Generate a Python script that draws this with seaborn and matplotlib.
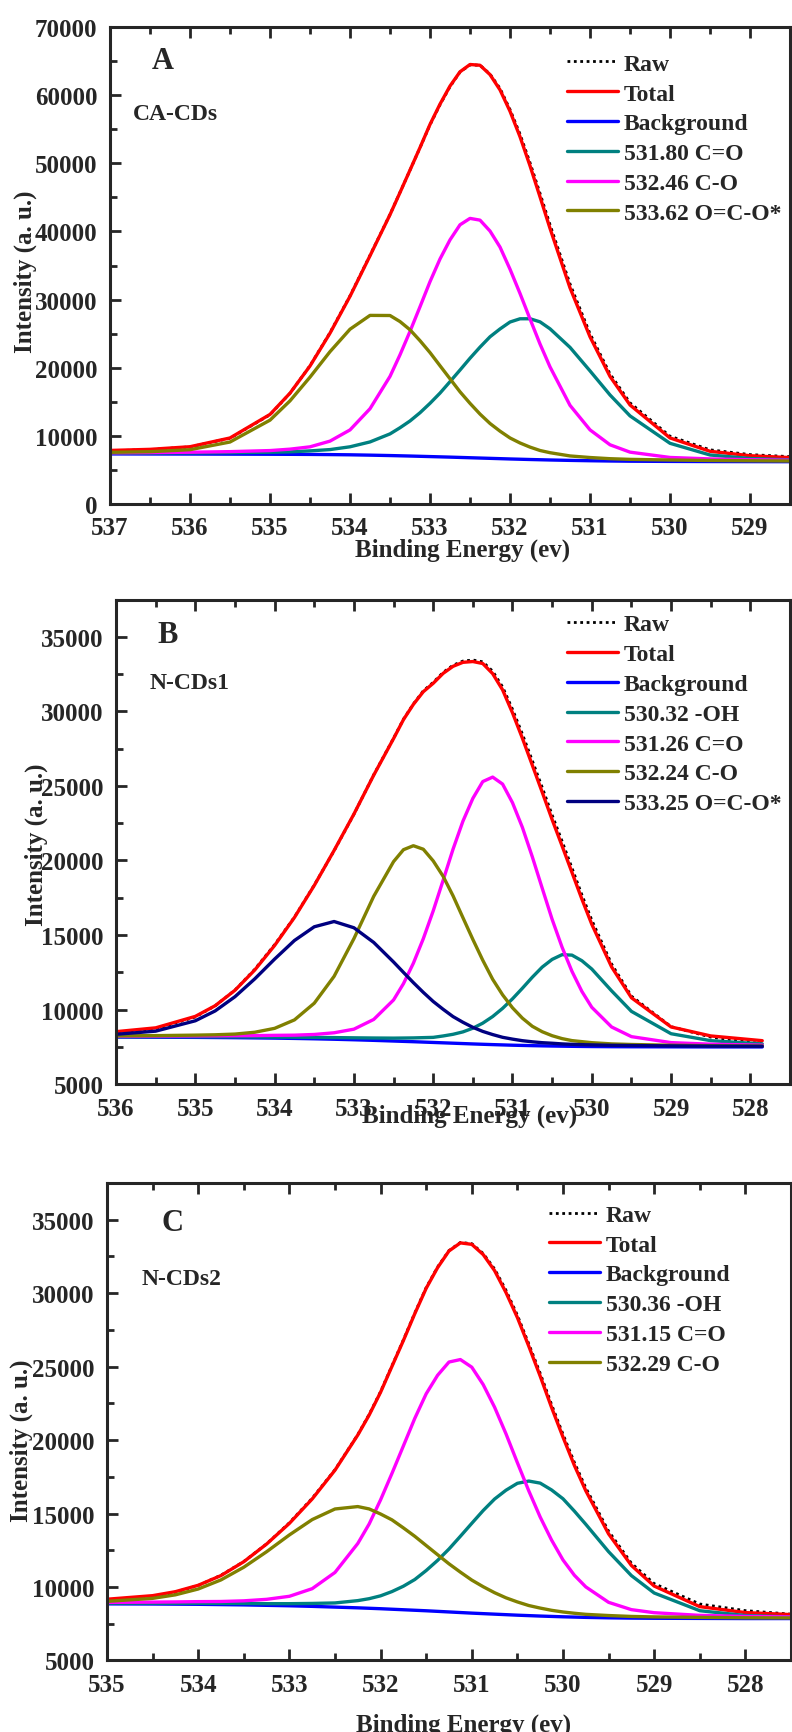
import numpy as np
import seaborn as sns
import matplotlib.pyplot as plt
from matplotlib.ticker import MultipleLocator

# ---------------- panel A : CA-CDs ----------------
energy_a = [537.0, 536.5, 536.0, 535.5, 535.0, 534.75, 534.5, 534.25, 534.0, 533.75,
            533.5, 533.375, 533.25, 533.125, 533.0, 532.875, 532.75, 532.625, 532.5, 532.375,
            532.25, 532.125, 532.0, 531.875, 531.75, 531.625, 531.5, 531.25, 531.0, 530.75,
            530.5, 530.0, 529.5, 529.0, 528.5]
raw_a = [7800, 7980, 8380, 9650, 13100, 16250, 20300, 25150, 30550, 36500,
         42500, 45750, 49000, 52300, 55650, 58600, 61250, 63400, 64450, 64400,
         63100, 61000, 57900, 54300, 50100, 45600, 41000, 32300, 25000, 19100,
         14850, 9950, 7950, 7250, 6950]
total_a = [7862, 8022, 8407, 9692, 13146, 16268, 20257, 25076, 30483, 36438,
           42468, 45718, 49012, 52319, 55714, 58694, 61346, 63437, 64507, 64396,
           63023, 60781, 57643, 53901, 49641, 45081, 40449, 31720, 24540, 18723,
           14534, 9695, 7736, 7085, 6811]
bg_a = [7350, 7340, 7330, 7315, 7300, 7290, 7275, 7250, 7220, 7170,
        7110, 7075, 7040, 7000, 6960, 6920, 6880, 6835, 6790, 6745,
        6700, 6655, 6610, 6570, 6530, 6495, 6460, 6400, 6350, 6310,
        6280, 6250, 6230, 6220, 6210]
# fitted components, height above the background
peak_a_co = [112, 137, 170, 224, 296, 366, 520, 737, 1176, 1940,
             3180, 4117, 5148, 6396, 7818, 9358, 11079, 12826, 14604, 16281,
             17843, 19038, 20100, 20615, 20660, 20240, 19255, 16589, 13188, 9694,
             6651, 2656, 963, 460, 279]
peak_a_c_o = [165, 208, 268, 370, 542, 760, 1116, 1978, 3654, 6815,
              11623, 14826, 18297, 21954, 25675, 29044, 31891, 34144, 35130, 34918,
              33363, 31053, 27850, 24330, 20631, 16988, 13665, 8078, 4530, 2380,
              1331, 581, 387, 278, 218]
peak_a_oco = [235, 337, 639, 1783, 5008, 7852, 11346, 15111, 18433, 20513,
              20555, 19700, 18527, 16969, 15261, 13372, 11496, 9632, 7983, 6452,
              5117, 4035, 3083, 2386, 1820, 1358, 1069, 653, 472, 339,
              272, 208, 156, 127, 104]
labels_a = ['531.80 C=O', '532.46 C-O', '533.62 O=C-O*']

# ---------------- panel B : N-CDs1 ----------------
energy_b = [536.0, 535.5, 535.0, 534.75, 534.5, 534.25, 534.0, 533.75, 533.5, 533.25,
            533.0, 532.75, 532.5, 532.375, 532.25, 532.125, 532.0, 531.875, 531.75, 531.625,
            531.5, 531.375, 531.25, 531.125, 531.0, 530.875, 530.75, 530.625, 530.5, 530.375,
            530.25, 530.125, 530.0, 529.75, 529.5, 529.0, 528.5, 527.85]
raw_b = [8450, 8700, 9500, 10250, 11300, 12700, 14350, 16200, 18350, 20650,
         23100, 25750, 28200, 29480, 30500, 31380, 31950, 32620, 33100, 33380,
         33450, 33330, 32700, 31650, 30150, 28480, 26700, 24900, 23050, 21300,
         19500, 17700, 16000, 13050, 10900, 8850, 8150, 7700]
total_b = [8514, 8770, 9539, 10254, 11291, 12655, 14298, 16175, 18325, 20670,
           23113, 25727, 28178, 29452, 30475, 31323, 31888, 32554, 33027, 33295,
           33348, 33215, 32535, 31448, 29906, 28200, 26393, 24579, 22740, 20982,
           19198, 17410, 15720, 12856, 10791, 8830, 8227, 7909]
bg_b = [8150, 8140, 8130, 8120, 8110, 8095, 8080, 8060, 8035, 8005,
        7970, 7930, 7885, 7862, 7840, 7815, 7790, 7765, 7740, 7715,
        7690, 7667, 7645, 7625, 7605, 7590, 7575, 7562, 7550, 7540,
        7530, 7522, 7515, 7505, 7500, 7495, 7490, 7490]
peak_b_oh = [31, 37, 45, 50, 56, 63, 72, 83, 95, 111,
             131, 158, 195, 225, 255, 298, 341, 460, 597, 784,
             1055, 1418, 1884, 2451, 3112, 3838, 4592, 5285, 5813, 6139,
             6119, 5752, 5201, 3747, 2375, 880, 420, 200]
peak_b_co = [63, 77, 99, 115, 133, 154, 187, 219, 291, 434,
             711, 1404, 2757, 3874, 5267, 6934, 8826, 10903, 13014, 14922,
             16476, 17627, 17950, 17501, 16270, 14626, 12669, 10573, 8498, 6643,
             5031, 3692, 2633, 1323, 680, 284, 183, 118]
peak_b_c_o = [83, 108, 151, 184, 242, 380, 656, 1243, 2388, 4220,
              6785, 9665, 12038, 12861, 13150, 12940, 12181, 11176, 9891, 8446,
              7013, 5639, 4382, 3361, 2511, 1828, 1299, 947, 692, 508,
              384, 322, 260, 188, 153, 109, 83, 60]
peak_b_oco = [187, 408, 1114, 1785, 2750, 3963, 5303, 6570, 7516, 7900,
              7516, 6570, 5303, 4630, 3963, 3336, 2750, 2250, 1785, 1428,
              1114, 864, 674, 510, 408, 318, 258, 212, 187, 152,
              134, 122, 111, 93, 83, 62, 51, 41]
labels_b = ['530.32 -OH', '531.26 C=O', '532.24 C-O', '533.25 O=C-O*']

# ---------------- panel C : N-CDs2 ----------------
energy_c = [535.0, 534.5, 534.25, 534.0, 533.75, 533.5, 533.25, 533.0, 532.75, 532.5,
            532.25, 532.125, 532.0, 531.875, 531.75, 531.625, 531.5, 531.375, 531.25, 531.125,
            531.0, 530.875, 530.75, 530.625, 530.5, 530.375, 530.25, 530.125, 530.0, 529.875,
            529.75, 529.5, 529.25, 529.0, 528.5, 528.0, 527.5]
raw_c = [8900, 9300, 9650, 10100, 10800, 11730, 12930, 14370, 16040, 17980,
         20370, 21750, 23300, 25060, 26820, 28650, 30380, 31780, 32900, 33450,
         33370, 32700, 31650, 30200, 28500, 26550, 24550, 22420, 20400, 18480,
         16750, 13800, 11620, 10230, 8840, 8390, 8150]
total_c = [9166, 9409, 9680, 10115, 10777, 11720, 12921, 14331, 15991, 17952,
           20345, 21707, 23258, 25021, 26776, 28604, 30333, 31737, 32873, 33422,
           33323, 32629, 31534, 30044, 28340, 26390, 24354, 22218, 20203, 18273,
           16550, 13615, 11466, 10062, 8662, 8257, 8121]
bg_c = [8850, 8840, 8830, 8820, 8800, 8780, 8750, 8720, 8680, 8630,
        8580, 8550, 8520, 8485, 8450, 8415, 8380, 8340, 8300, 8260,
        8220, 8185, 8150, 8115, 8080, 8050, 8020, 7995, 7970, 7950,
        7930, 7900, 7880, 7870, 7860, 7850, 7850]
peak_c_oh = [45, 56, 62, 71, 83, 98, 113, 143, 200, 283,
             491, 654, 878, 1203, 1602, 2092, 2740, 3469, 4284, 5191,
             6113, 7019, 7836, 8471, 8977, 9160, 9050, 8609, 8035, 7214,
             6337, 4504, 2895, 1720, 524, 207, 115]
peak_c_co = [100, 129, 153, 182, 212, 277, 409, 646, 1204, 2360,
             4381, 5741, 7413, 9251, 11152, 13062, 14771, 16070, 17012, 17221,
             16741, 15593, 14088, 12311, 10381, 8493, 6741, 5197, 3870, 2848,
             2076, 1055, 577, 379, 207, 146, 112]
peak_c_c_o = [171, 384, 635, 1042, 1682, 2565, 3649, 4822, 5907, 6679,
              6893, 6762, 6447, 6082, 5572, 5035, 4442, 3858, 3277, 2750,
              2249, 1832, 1460, 1147, 902, 687, 543, 417, 328, 261,
              207, 156, 114, 93, 71, 54, 44]
labels_c = ['530.36 -OH', '531.15 C=O', '532.29 C-O']

TEAL, MAGENTA, OLIVE, NAVY = '#008080', '#ff00ff', '#808000', '#000080'

sns.set_style('ticks')
plt.rcParams['font.family'] = ['Liberation Serif', 'DejaVu Serif']
plt.rcParams['font.weight'] = 'bold'
plt.rcParams['axes.labelweight'] = 'bold'
plt.rcParams['axes.linewidth'] = 2.2

fig = plt.figure(figsize=(7.92, 17.33), dpi=100)


def draw(ax, energy, raw, total, bg, peaks, colors, labels):
    kw = dict(ax=ax, lw=2.4, solid_joinstyle='round')
    sns.lineplot(x=energy, y=raw, ax=ax, color='black', lw=2, linestyle=(0, (1, 1.3)), label='Raw')
    sns.lineplot(x=energy, y=total, color='red', label='Total', **kw)
    sns.lineplot(x=energy, y=bg, color='blue', label='Background', **kw)
    for p, c, lab in zip(peaks, colors, labels):
        sns.lineplot(x=energy, y=np.add(bg, p), color=c, label=lab, **kw)


def style(ax, xlim, ylim, ymaj, ymin, legend_xy, letter, letter_xy, name, name_xy, ylab_xy, xlab_xy):
    ax.set_xlim(*xlim)
    ax.set_ylim(*ylim)
    ax.xaxis.set_major_locator(MultipleLocator(1))
    ax.xaxis.set_minor_locator(MultipleLocator(0.5))
    ax.yaxis.set_major_locator(MultipleLocator(ymaj))
    ax.yaxis.set_minor_locator(MultipleLocator(ymin))
    ax.xaxis.set_major_formatter(plt.FuncFormatter(lambda v, _: f'{v:.0f}'))
    ax.tick_params(which='major', direction='in', length=8, width=2, labelsize=18, pad=9,
                   top=True, right=False)
    ax.tick_params(which='minor', direction='in', length=5, width=2, top=True, right=False)
    for lab in ax.get_xticklabels() + ax.get_yticklabels():
        lab.set_fontweight('bold')
    ax.set_xlabel('Binding Energy (ev)', fontsize=18)
    ax.set_ylabel('Intensity (a. u.)', fontsize=18)
    ax.xaxis.set_label_coords(*xlab_xy)
    ax.yaxis.set_label_coords(*ylab_xy)
    ax.legend(loc='upper left', bbox_to_anchor=legend_xy, frameon=False, borderaxespad=0,
              handlelength=2.15, handletextpad=0.25, labelspacing=0.35,
              prop={'weight': 'bold', 'size': 17})
    ax.text(*letter_xy, letter, transform=ax.transAxes, fontsize=22, fontweight='bold',
            ha='center', va='center')
    ax.text(*name_xy, name, transform=ax.transAxes, fontsize=17, fontweight='bold',
            ha='left', va='center')


ax_a = fig.add_axes([0.1389, 0.7086, 0.8586, 0.2752])
draw(ax_a, energy_a, raw_a, total_a, bg_a, [peak_a_co, peak_a_c_o, peak_a_oco],
     [TEAL, MAGENTA, OLIVE], labels_a)
style(ax_a, (537, 528.5), (0, 70000), 10000, 5000, (0.658, 0.965), 'A', (0.078, 0.929),
      'CA-CDs', (0.034, 0.818), (-0.107, 0.49), (0.518, -0.07))

ax_b = fig.add_axes([0.1465, 0.3739, 0.851, 0.2795])
draw(ax_b, energy_b, raw_b, total_b, bg_b, [peak_b_oh, peak_b_co, peak_b_c_o, peak_b_oco],
     [TEAL, MAGENTA, OLIVE, NAVY], labels_b)
style(ax_b, (536, 527.5), (5000, 37500), 5000, 2500, (0.655, 0.99), 'B', (0.077, 0.929),
      'N-CDs1', (0.05, 0.83), (-0.101, 0.497), (0.524, -0.04))

ax_c = fig.add_axes([0.1351, 0.0413, 0.8636, 0.2755])
draw(ax_c, energy_c, raw_c, total_c, bg_c, [peak_c_oh, peak_c_co, peak_c_c_o],
     [TEAL, MAGENTA, OLIVE], labels_c)
style(ax_c, (535, 527.5), (5000, 37500), 5000, 2500, (0.633, 0.975), 'C', (0.096, 0.918),
      'N-CDs2', (0.051, 0.8), (-0.108, 0.462), (0.522, -0.11))

fig.savefig('out.png', dpi=100)
